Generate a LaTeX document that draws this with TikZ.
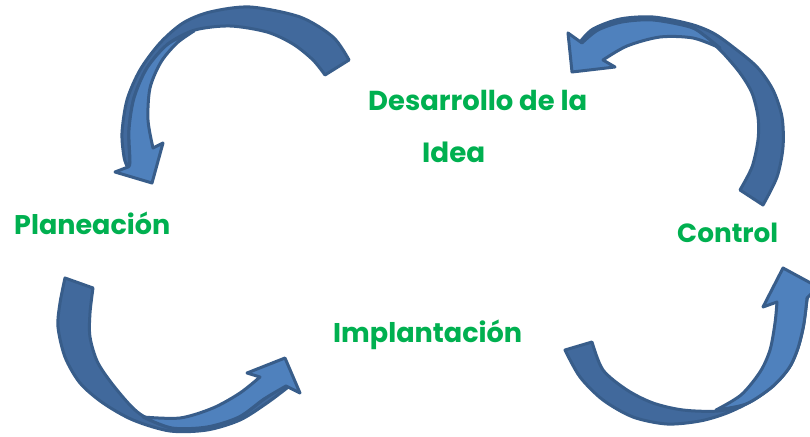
\documentclass[tikz,border=0pt]{standalone}
\usepackage{fontspec}
\usepackage{graphicx}
\newfontfamily\labfont{Poppins}
\definecolor{arrlight}{HTML}{4F81BD}
\definecolor{arrdark}{HTML}{41699C}
\definecolor{arrline}{HTML}{385D8A}
\definecolor{labgreen}{HTML}{00B050}
\tikzset{
  darkpart/.style={fill=arrdark, draw=arrline, line width=3pt, line join=round},
  lightpart/.style={fill=arrlight, draw=arrline, line width=3pt, line join=round},
  lab/.style={inner sep=0pt, anchor=base west, text=labgreen, font=\labfont\bfseries}
}
\begin{document}
\begin{tikzpicture}[x=1pt,y=-1pt]
\useasboundingbox (0,0) rectangle (810,436);
\clip (0,0) rectangle (810,436);
\fill[white] (0,0) rectangle (810,436);

% Arrow 1 (top left)
\path[darkpart] plot[smooth] coordinates {(349,60) (333,37) (300,17) (250,7) (210,12) (183,23) (160,43) (140,70) (127,100) (122,133) (124,157) (127,166)}
  -- plot[smooth] coordinates {(130,162) (129,130) (134,98) (147,68) (168,44) (195,30) (230,26) (267,32) (293,44) (313,60) (325,75)} -- cycle;
\path[lightpart] plot[smooth] coordinates {(194,31) (168,44) (147,68) (134,98) (129,130) (130,162) (128,167)}
  -- (115,172) -- (152,183) -- (163,143)
  -- plot[smooth] coordinates {(153,148) (148,120) (150,88) (161,62) (177,43) (194,31)} -- cycle;

% Arrow 2 (top right)
\path[darkpart] plot[smooth] coordinates {(763,205) (777,177) (783,147) (782,117) (773,90) (757,67) (733,47) (713,33) (690,24) (653,17) (620,19) (593,29) (580,42)}
  -- plot[smooth] coordinates {(584,40) (598,30) (622,22) (653,20) (690,27) (707,38) (723,53) (740,73) (752,93) (758,117) (758,140) (752,167) (740,190)} -- cycle;
\path[lightpart] plot[smooth] coordinates {(720,48) (705,36) (690,27) (653,20) (622,22) (598,30) (582,43)}
  -- (568,33) -- (572,72) -- (615,67)
  -- plot[smooth] coordinates {(603,60) (627,46) (660,37) (693,38) (720,48)} -- cycle;

% Arrow 3 (bottom left)
\path[darkpart] plot[smooth] coordinates {(65,278) (60,303) (58,327) (65,357) (80,383) (103,403) (133,420) (170,431) (207,430) (240,420) (267,403) (287,388)}
  -- plot[smooth] coordinates {(284,385) (264,399) (239,417) (207,427) (172,428) (140,414) (117,390) (98,363) (90,337) (90,313) (93,288)} -- cycle;
\path[lightpart] plot[smooth] coordinates {(143,417) (172,428) (207,427) (239,417) (264,399) (286,386)}
  -- (300,393) -- (285,358) -- (247,373)
  -- plot[smooth] coordinates {(260,377) (240,393) (213,408) (180,418) (143,417)} -- cycle;

% Arrow 4 (bottom right)
\path[darkpart] plot[smooth] coordinates {(565,350) (580,377) (603,400) (633,417) (667,424) (700,421) (727,413) (753,400) (777,380) (793,357) (803,327) (807,300) (809,292)}
  -- plot[smooth] coordinates {(806,293) (804,323) (798,348) (789,368) (772,387) (746,404) (718,411) (683,410) (653,403) (627,390) (603,370) (592,342)} -- cycle;
\path[lightpart] plot[smooth] coordinates {(716,410) (746,404) (772,387) (789,368) (798,348) (804,323) (807,298)}
  -- (818,287) -- (783,268) -- (763,307)
  -- plot[smooth] coordinates {(777,302) (775,323) (770,350) (760,372) (741,395) (716,410)} -- cycle;

% Labels
\node[lab] (desarrollo) at (368,110) {\resizebox{219pt}{!}{Desarrollo de la}};
\node[lab] (idea) at (422,162) {\resizebox{63pt}{!}{Idea}};
\node[lab] (planeacion) at (14,234) {\resizebox{156pt}{!}{Planeación}};
\node[lab] (control) at (677,242) {\resizebox{101pt}{!}{Control}};
\node[lab] (implantacion) at (333,342) {\resizebox{189pt}{!}{Implantación}};
\end{tikzpicture}
\end{document}
